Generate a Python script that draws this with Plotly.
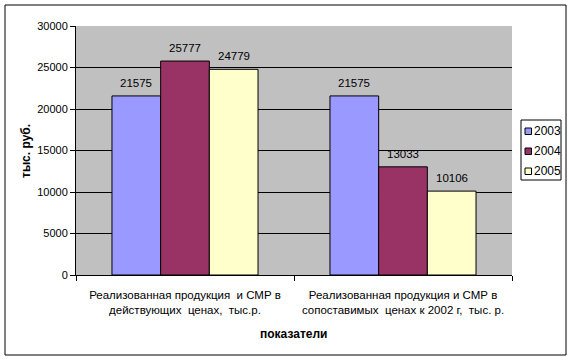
import plotly.graph_objects as go

categories = [
    "Реализованная продукция  и СМР в<br>действующих  ценах,  тыс.р.",
    "Реализованная продукция и СМР в<br>сопоставимых  ценах к 2002 г,  тыс. р.",
]
years = ["2003", "2004", "2005"]
values_2003 = [21575, 21575]
values_2004 = [25777, 13033]
values_2005 = [24779, 10106]
series_values = [values_2003, values_2004, values_2005]
colors = ["#9999FF", "#993366", "#FFFFCC"]

FONT = "Liberation Sans, Arial, sans-serif"
W, H = 572, 361
L, R, T, B = 76, 60, 26, 86
PW, PH = W - L - R, H - T - B
BARGAP = 0.33


def px(x):
    return (x - L) / PW


def py(y):
    return (H - B - y) / PH


fig = go.Figure()
for name, vals, col in zip(years, series_values, colors):
    fig.add_trace(go.Bar(
        x=categories, y=vals, name=name,
        marker=dict(color=col, line=dict(color="black", width=1)),
        showlegend=False, cliponaxis=False, hoverinfo="skip",
    ))

# data labels above bars
bar_w = PW / len(categories) * (1 - BARGAP) / len(years)
annotations = []
for i, vals in enumerate(series_values):
    for c, v in zip(categories, vals):
        annotations.append(dict(
            x=c, y=v, xref="x", yref="y", text=str(v), showarrow=False,
            xanchor="center", yanchor="middle",
            xshift=(i - (len(years) - 1) / 2) * bar_w, yshift=13,
            font=dict(family=FONT, size=11.5, color="black"),
        ))

# axis titles
annotations.append(dict(x=px(293), y=py(334), xref="paper", yref="paper",
                        xanchor="center", yanchor="middle",
                        text="<b>показатели</b>", showarrow=False,
                        font=dict(family=FONT, size=12, color="black")))
annotations.append(dict(x=px(26), y=py(151), xref="paper", yref="paper",
                        xanchor="center", yanchor="middle",
                        text="<b>тыс. руб.</b>", showarrow=False, textangle=-90,
                        font=dict(family=FONT, size=12, color="black")))

shapes = [dict(type="rect", xref="paper", yref="paper",
               x0=px(5), x1=px(566), y0=py(355), y1=py(5),
               line=dict(color="black", width=1), fillcolor="rgba(0,0,0,0)", layer="below")]

# legend (compact, Excel-like)
shapes.append(dict(type="rect", xref="paper", yref="paper",
                   x0=px(521), x1=px(561), y0=py(180), y1=py(120),
                   line=dict(color="black", width=1), fillcolor="white"))
for k, (name, col) in enumerate(zip(years, colors)):
    cy = 131 + 20 * k
    shapes.append(dict(type="rect", xref="paper", yref="paper",
                       x0=px(525), x1=px(531.5), y0=py(cy + 3.5), y1=py(cy - 3),
                       line=dict(color="black", width=1), fillcolor=col))
    annotations.append(dict(x=px(532), y=py(cy), xref="paper", yref="paper",
                            xanchor="left", yanchor="middle", text=name, showarrow=False,
                            font=dict(family=FONT, size=12, color="black")))

fig.update_layout(
    width=W, height=H,
    margin=dict(l=L, r=R, t=T, b=B, autoexpand=False),
    paper_bgcolor="white", plot_bgcolor="#C0C0C0",
    barmode="group", bargap=BARGAP, bargroupgap=0,
    font=dict(family=FONT, size=11, color="black"),
    showlegend=False,
    xaxis=dict(
        type="category", showgrid=False, showline=True, linecolor="black", linewidth=1,
        ticks="outside", tickson="boundaries", ticklen=5, tickcolor="black",
        tickangle=0, automargin=False, ticklabelstandoff=9,
        tickfont=dict(family=FONT, size=11.5, color="black"),
    ),
    yaxis=dict(
        range=[0, 30000], dtick=5000, tickformat="d", showgrid=True, gridcolor="black", gridwidth=1,
        showline=True, linecolor="black", linewidth=1, zeroline=False,
        ticks="outside", ticklen=5, tickcolor="black", automargin=False,
        tickfont=dict(family=FONT, size=11, color="black"),
    ),
    shapes=shapes,
    annotations=annotations,
)

fig.write_html("out.html", config={"displayModeBar": False},
               post_script="document.body.style.margin='0';")
